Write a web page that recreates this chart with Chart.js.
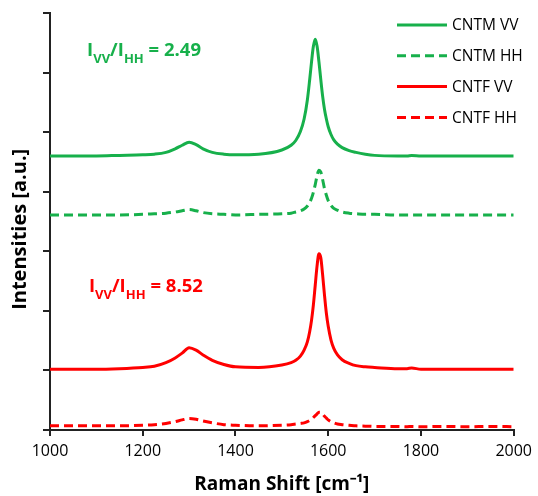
<!DOCTYPE html>
<html><head><meta charset="utf-8">
<script src="https://cdn.jsdelivr.net/npm/chart.js@4.4.1/dist/chart.umd.min.js"></script>
<style>html,body{margin:0;padding:0;background:#fff}#wrap{width:538px;height:496px}</style>
</head><body><div id="wrap"><canvas id="c" width="538" height="496"></canvas></div>
<script>
// Raman shift sample positions (cm-1)
const ramanShift = [1000,1050,1100,1150,1200,1225,1250,1270,1285,1300,1315,1330,1350,1375,1400,1450,1500,1520,1530,1540,1548,1555,1560,1564,1568,1572,1576,1580,1584,1588,1592,1596,1600,1606,1612,1620,1630,1645,1660,1680,1700,1750,1770,1780,1800,1850,1900,1950,2000];
// Intensities (arbitrary units, offset stacked)
const cntmVV = [4.60,4.60,4.60,4.61,4.62,4.63,4.66,4.72,4.78,4.83,4.79,4.72,4.66,4.63,4.62,4.63,4.70,4.78,4.86,5.01,5.22,5.54,5.88,6.18,6.44,6.56,6.44,6.18,5.88,5.60,5.38,5.22,5.09,4.96,4.87,4.80,4.74,4.69,4.66,4.63,4.61,4.60,4.60,4.61,4.60,4.60,4.60,4.60,4.60];
const cntmHH = [3.61,3.61,3.61,3.61,3.62,3.63,3.64,3.66,3.68,3.70,3.68,3.65,3.63,3.62,3.61,3.62,3.63,3.64,3.66,3.68,3.71,3.76,3.82,3.89,3.99,4.12,4.27,4.36,4.33,4.20,4.05,3.94,3.85,3.77,3.72,3.69,3.66,3.64,3.63,3.62,3.62,3.61,3.61,3.61,3.61,3.61,3.61,3.61,3.61];
const cntfVV = [1.02,1.02,1.02,1.03,1.05,1.07,1.13,1.21,1.29,1.38,1.34,1.26,1.17,1.10,1.06,1.05,1.09,1.13,1.17,1.24,1.34,1.48,1.65,1.84,2.10,2.43,2.76,2.96,2.89,2.60,2.26,1.96,1.74,1.51,1.37,1.26,1.18,1.12,1.08,1.06,1.05,1.03,1.03,1.04,1.02,1.02,1.02,1.02,1.02];
const cntfHH = [0.07,0.07,0.07,0.07,0.08,0.09,0.11,0.14,0.17,0.195,0.18,0.15,0.12,0.09,0.08,0.07,0.08,0.09,0.10,0.11,0.12,0.14,0.16,0.18,0.21,0.24,0.27,0.30,0.30,0.27,0.23,0.20,0.17,0.14,0.12,0.10,0.09,0.08,0.07,0.065,0.06,0.06,0.055,0.06,0.055,0.06,0.055,0.06,0.055];
const seriesLabels = ['CNTM VV','CNTM HH','CNTF VV','CNTF HH'];
const xTickValues = [1000,1200,1400,1600,1800,2000];
const xTickLabels = ['1000','1200','1400','1600','1800','2000'];
const ratioValues = ['2.49','8.52'];

const GREEN = '#17b04b';
const RED = '#ff0000';
const FONT = '"Open Sans", "Liberation Sans", sans-serif';

function series(vals){ return ramanShift.map((x,i)=>({x:x, y:vals[i]})); }

const overlay = {
  id: 'overlay',
  afterDatasetsDraw(chart){
    const ctx = chart.ctx, xs = chart.scales.x, ys = chart.scales.y;
    // ratio annotations (anchored in data coordinates)
    const anchors = [{x:1080, y:6.28, color:GREEN}, {x:1084, y:2.32, color:RED}];
    ratioValues.forEach((v,i)=>{
      let px = xs.getPixelForValue(anchors[i].x);
      const py = ys.getPixelForValue(anchors[i].y);
      ctx.save();
      ctx.fillStyle = anchors[i].color;
      ctx.textAlign = 'left';
      ctx.textBaseline = 'alphabetic';
      const big = 'bold 18.5px ' + FONT, small = 'bold 13px ' + FONT;
      const parts = [['I',big,0],['VV',small,7],['/I',big,0],['HH',small,7],[' = ' + v,big,0]];
      parts.forEach(p=>{ ctx.font = p[1]; ctx.fillText(p[0], px, py + p[2]); px += ctx.measureText(p[0]).width; });
      ctx.restore();
    });
    // legend
    chart.data.datasets.forEach((ds,i)=>{
      const y = 25 + i*30.8;
      ctx.save();
      ctx.strokeStyle = ds.borderColor;
      ctx.lineWidth = 3;
      ctx.setLineDash(ds.borderDash || []);
      ctx.beginPath(); ctx.moveTo(397, y); ctx.lineTo(447, y); ctx.stroke();
      ctx.setLineDash([]);
      ctx.fillStyle = '#000';
      ctx.font = '15.5px ' + FONT;
      ctx.textBaseline = 'middle';
      ctx.textAlign = 'left';
      ctx.fillText(ds.label, 452, y + 1);
      ctx.restore();
    });
  }
};

const dashed = [9,5];
new Chart(document.getElementById('c'), {
  type: 'line',
  data: {
    datasets: [
      {label: seriesLabels[0], data: series(cntmVV), borderColor: GREEN, borderWidth: 3, borderDash: []},
      {label: seriesLabels[1], data: series(cntmHH), borderColor: GREEN, borderWidth: 3, borderDash: dashed},
      {label: seriesLabels[2], data: series(cntfVV), borderColor: RED, borderWidth: 3, borderDash: []},
      {label: seriesLabels[3], data: series(cntfHH), borderColor: RED, borderWidth: 3, borderDash: dashed}
    ]
  },
  options: {
    responsive: false,
    animation: false,
    devicePixelRatio: 1,
    layout: {padding: {top: 13, right: 23, left: 0, bottom: 0}},
    elements: {point: {radius: 0}, line: {cubicInterpolationMode: 'monotone', fill: false}},
    plugins: {legend: {display: false}, tooltip: {enabled: false}},
    scales: {
      x: {
        type: 'linear', min: 1000, max: 2000,
        ticks: {stepSize: 200, autoSkip: false, maxRotation: 0, color: '#000', padding: 6,
          font: {family: FONT, size: 16},
          callback: (v) => { const k = xTickValues.indexOf(v); return k >= 0 ? xTickLabels[k] : ''; }},
        grid: {display: true, drawOnChartArea: false, drawTicks: true, tickLength: 6, color: '#222', lineWidth: 2},
        border: {display: true, color: '#222', width: 2},
        title: {display: true, text: 'Raman Shift [cm\u207B\u00B9]', color: '#000', padding: 0,
          font: {family: FONT, size: 19, weight: 'bold'}},
        afterFit(s){ s.height = 66; }
      },
      y: {
        type: 'linear', min: 0, max: 7,
        ticks: {stepSize: 1, display: false},
        grid: {display: true, drawOnChartArea: false, drawTicks: true, tickLength: 7, color: '#222', lineWidth: 2},
        border: {display: true, color: '#222', width: 2},
        title: {display: true, text: 'Intensities [a.u.]   ', color: '#000', padding: {top: 8, bottom: 0},
          font: {family: FONT, size: 20, weight: 'bold'}},
        afterFit(s){ s.width = 50; }
      }
    }
  },
  plugins: [overlay]
});
</script></body></html>
